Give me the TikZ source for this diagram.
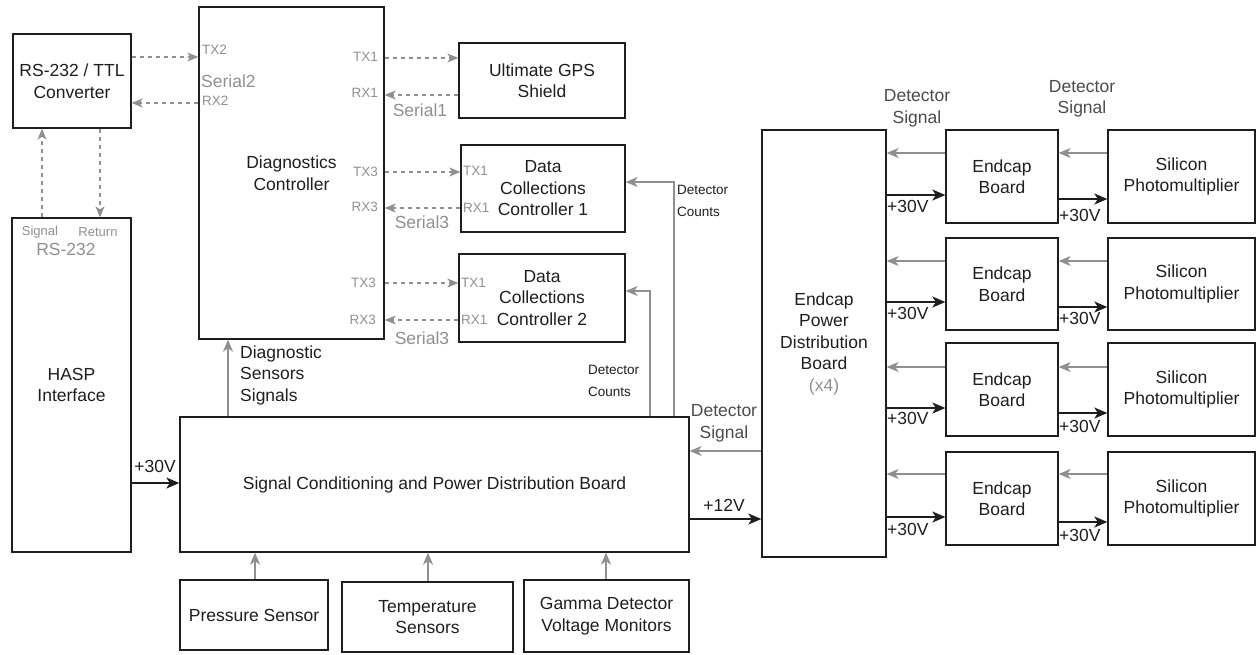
\documentclass[tikz,border=0pt]{standalone}
\usepackage{fontspec}
\setmainfont{Liberation Sans}
\usetikzlibrary{arrows.meta,calc}
\definecolor{lg}{HTML}{8F8F8F}
\definecolor{ink}{HTML}{1E1E1E}
\begin{document}
\begin{tikzpicture}[x=1pt,y=-1pt,
  box/.style={draw=ink,line width=1.3pt,inner sep=0pt,align=center,text=ink,font=\fontsize{17.5}{21.5}\selectfont},
  lbl/.style={text=ink,inner sep=0pt,font=\fontsize{17.5}{21.5}\selectfont},
  glbl/.style={text=lg,inner sep=0pt,font=\fontsize{17.5}{21.5}\selectfont},
  small/.style={text=ink,inner sep=0pt,font=\fontsize{13.5}{22}\selectfont},
  port/.style={text=lg,inner sep=0pt,font=\fontsize{13.5}{15}\selectfont},
  dsh/.style={draw=lg,line width=1.2pt,dash pattern=on 4pt off 4pt,-{Stealth[length=11pt,width=9pt,inset=3pt]}},
  gar/.style={draw=lg,line width=1.3pt,-{Stealth[length=12pt,width=10pt,inset=3.5pt]}},
  bar/.style={draw=ink,line width=2pt,-{Stealth[length=13pt,width=11pt,inset=3.5pt]}},
]
\useasboundingbox (0,0) rectangle (1257,654);

% boxes
\node[box,minimum width=118pt,minimum height=94pt] (conv) at (72,81) {RS-232 / TTL\\Converter};
\node[box,minimum width=119pt,minimum height=334pt] (hasp) at (71.5,385) {HASP\\Interface};
\node[box,minimum width=185pt,minimum height=332pt] (dc) at (291.5,173) {Diagnostics\\Controller};
\node[box,minimum width=166pt,minimum height=75pt] (gps) at (542,80.5) {Ultimate GPS\\Shield};
\node[box,minimum width=164pt,minimum height=87pt] (dcc1) at (543,188.5) {Data\\Collections\\Controller 1};
\node[box,minimum width=166pt,minimum height=88pt] (dcc2) at (542,298) {Data\\Collections\\Controller 2};
\node[box,minimum width=509pt,minimum height=135pt] (scpd) at (434.5,484.5) {Signal Conditioning and Power Distribution Board};
\node[box,minimum width=148pt,minimum height=70pt] (press) at (254,615) {Pressure Sensor};
\node[box,minimum width=171pt,minimum height=70pt] (temp) at (427.5,617) {Temperature\\Sensors};
\node[box,minimum width=165pt,minimum height=72pt] (gamma) at (606.5,616) {Gamma Detector\\Voltage Monitors};
\node[box,minimum width=124pt,minimum height=427pt] (epd) at (824,343.5) {Endcap\\Power\\Distribution\\Board\\\textcolor{lg}{(x4)}};

% labels inside HASP
\node[port,font=\fontsize{13}{15}\selectfont] (sig) at (40,232) {Signal};
\node[port,font=\fontsize{13}{15}\selectfont] (ret) at (98,232) {Return};
\node[glbl] (rs) at (66,249) {RS-232};

% port labels on diagnostics controller
\node[port,anchor=west] (tx2) at (202,50) {TX2};
\node[glbl,anchor=west] (ser2) at (201,81) {Serial2};
\node[port,anchor=west] (rx2) at (202,101) {RX2};
\node[port,anchor=east] (tx1) at (378,57) {TX1};
\node[port,anchor=east] (rx1) at (378,93) {RX1};
\node[port,anchor=east] (tx3a) at (378,172) {TX3};
\node[port,anchor=east] (rx3a) at (378,207) {RX3};
\node[port,anchor=east] (tx3b) at (376,283) {TX3};
\node[port,anchor=east] (rx3b) at (376,320) {RX3};
\node[port,anchor=west] (dtx1) at (463,171) {TX1};
\node[port,anchor=west] (drx1) at (463,208) {RX1};
\node[port,anchor=west] (dtx2) at (461,283) {TX1};
\node[port,anchor=west] (drx2) at (461,320) {RX1};
\node[glbl] (ser1) at (420,110) {Serial1};
\node[glbl] (ser3a) at (422,222) {Serial3};
\node[glbl] (ser3b) at (422,338) {Serial3};

% serial connectors
\draw[dsh] (conv.east |- 0,57) -- (dc.west |- 0,57);
\draw[dsh] (dc.west |- 0,103) -- (conv.east |- 0,103);
\draw[dsh] (dc.east |- 0,58) -- (gps.west |- 0,58);
\draw[dsh] (gps.west |- 0,95) -- (dc.east |- 0,95);
\draw[dsh] (dc.east |- 0,172) -- (dcc1.west |- 0,172);
\draw[dsh] (dcc1.west |- 0,208) -- (dc.east |- 0,208);
\draw[dsh] (dc.east |- 0,283) -- (dcc2.west |- 0,283);
\draw[dsh] (dcc2.west |- 0,320) -- (dc.east |- 0,320);
\draw[dsh] (hasp.north -| 42,0) -- (conv.south -| 42,0);
\draw[dsh] (conv.south -| 100,0) -- (hasp.north -| 100,0);

% diagnostic sensors
\draw[gar] (scpd.north -| 228,0) -- (dc.south -| 228,0);
\node[lbl,anchor=west,align=left] (dss) at (240,375) {Diagnostic\\Sensors\\Signals};

% sensors into signal conditioning board
\draw[gar] (press.north -| 255,0) -- (scpd.south -| 255,0);
\draw[gar] (temp.north -| 428,0) -- (scpd.south -| 428,0);
\draw[gar] (gamma.north -| 606,0) -- (scpd.south -| 606,0);

% detector counts
\draw[gar] (scpd.north -| 674,0) |- (dcc1.east |- 0,182);
\node[small,anchor=west,align=left] (dcl1) at (677,201) {Detector\\Counts};
\draw[gar] (scpd.north -| 650,0) |- (dcc2.east |- 0,291);
\node[small,anchor=west,align=left] (dcl2) at (588,381) {Detector\\Counts};

% power
\draw[bar] (hasp.east |- 0,483) -- (scpd.west |- 0,483);
\node[lbl] (p30) at (155,466) {+30V};
\draw[bar] (scpd.east |- 0,519) -- (epd.west |- 0,519);
\node[lbl] (p12) at (724,505) {+12V};
\draw[gar] (epd.west |- 0,451) -- (scpd.east |- 0,451);
\node[glbl,align=center,text=ink!80] (dsl) at (724,423.5) {Detector\\Signal};

% top labels
\node[glbl,align=center,text=ink!80] (ds1) at (917,108.5) {Detector\\Signal};
\node[glbl,align=center,text=ink!80] (ds2) at (1082,99) {Detector\\Signal};

% endcap rows
\foreach \i/\cy/\h/\gy/\by/\bby/\ly/\ry in {1/176.5/93/153/195/199/206/215, 2/284/92/261/302/307/313/318, 3/389.5/93/367/408/413/418/426, 4/498.5/93/474/517/522/529/535}{
  \node[box,minimum width=112pt,minimum height=\h pt] (ecb\i) at (1002,\cy) {Endcap\\Board};
  \node[box,minimum width=147pt,minimum height=\h pt] (sipm\i) at (1181.5,\cy) {Silicon\\Photomultiplier};
  \draw[gar] (ecb\i.west |- 0,\gy) -- (epd.east |- 0,\gy);
  \draw[gar] (sipm\i.west |- 0,\gy) -- (ecb\i.east |- 0,\gy);
  \draw[bar] (epd.east |- 0,\by) -- (ecb\i.west |- 0,\by);
  \draw[bar] (ecb\i.east |- 0,\bby) -- (sipm\i.west |- 0,\bby);
  \node[lbl,anchor=west] (pl\i) at (887,\ly) {+30V};
  \node[lbl,anchor=west] (pr\i) at (1059,\ry) {+30V};
}
\end{tikzpicture}
\end{document}
